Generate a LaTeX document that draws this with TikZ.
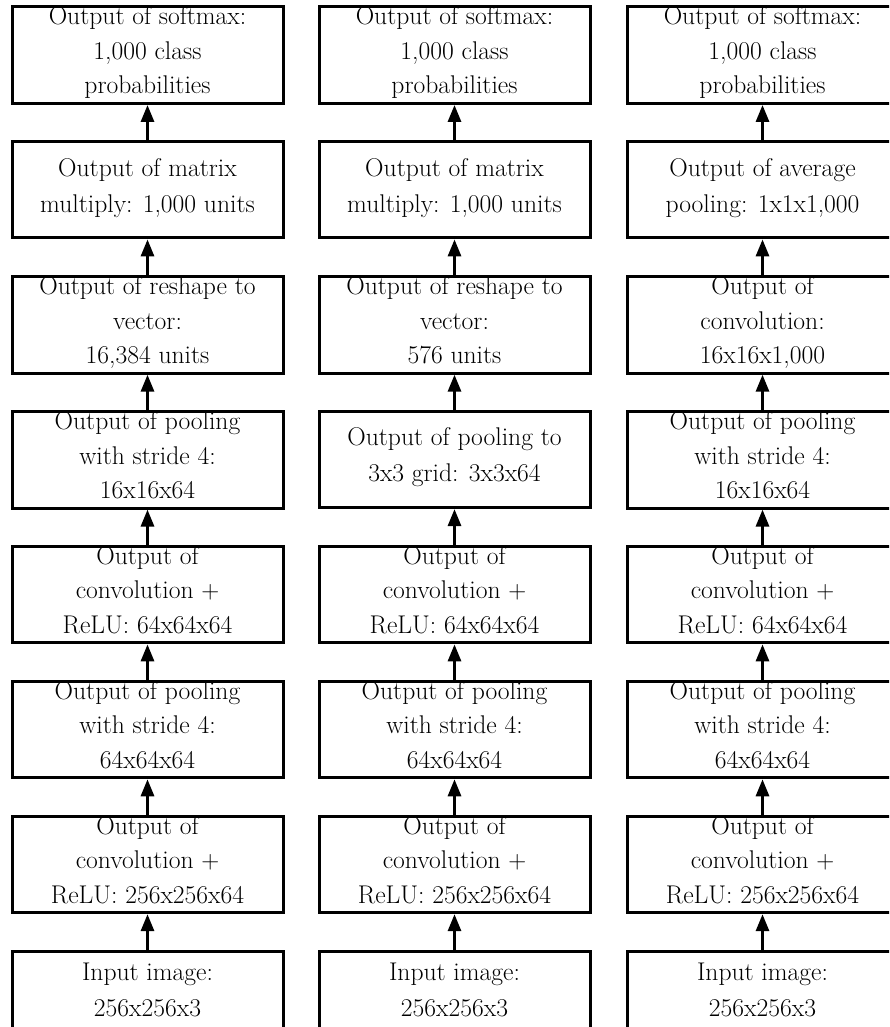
\documentclass[tikz,border=0pt]{standalone}
\usetikzlibrary{arrows.meta}
\newcommand{\mytopstrut}{\rule{0pt}{18.5pt}}
\newcommand{\mybotstrut}{\rule[-9.5pt]{0pt}{9.5pt}}
\newcommand{\mybotstrutb}{\rule[-5.5pt]{0pt}{5.5pt}}
\begin{document}
\begin{tikzpicture}[x=1pt,y=-1pt,
  box/.style={draw, line width=3pt, minimum width=271pt, minimum height=96pt,
    inner sep=0pt, anchor=north, align=center,
    font=\fontsize{25.6}{34.5}\selectfont,
    execute at begin node=\mytopstrut, execute at end node=\mybotstrut},
  boxb/.style={box, font=\fontsize{25.6}{36}\selectfont,
    execute at end node=\mybotstrutb},
  tallbox/.style={draw, line width=3pt, minimum width=271pt, minimum height=140pt,
    inner sep=0pt, anchor=north},
  lbl/.style={inner sep=0pt, outer sep=0pt, anchor=north, align=center,
    font=\fontsize{25.6}{36}\selectfont,
    execute at begin node=\mytopstrut, execute at end node=\mybotstrut},
  arr/.style={line width=3pt, -{Triangle[length=17pt,width=13pt]}}]
\clip (0,0) rectangle (889,1027);
\fill[white] (0,0) rectangle (889,1027);
% column 1
\node[box] (a1) at (147.5,5.5) {Output of softmax:\\1,000 class\\probabilities};
\node[boxb] (a2) at (147.5,140.4) {Output of matrix\\multiply: 1,000 units};
\node[box] (a3) at (147.5,275.2) {Output of reshape to\\vector:\\16,384 units};
\node[box] (a4) at (147.5,410.1) {Output of pooling\\with stride 4:\\16x16x64};
\node[box] (a5) at (147.5,544.9) {Output of\\convolution $+$\\ReLU: 64x64x64};
\node[box] (a6) at (147.5,679.8) {Output of pooling\\with stride 4:\\64x64x64};
\node[box] (a7) at (147.5,814.7) {Output of\\convolution $+$\\ReLU: 256x256x64};
\node[tallbox] (a8) at (147.5,949.5) {};
\node[lbl] (ta8) at (147.5,963) {Input image:\\256x256x3};
% column 2
\node[box] (b1) at (454.5,5.5) {Output of softmax:\\1,000 class\\probabilities};
\node[boxb] (b2) at (454.5,140.4) {Output of matrix\\multiply: 1,000 units};
\node[box] (b3) at (454.5,275.2) {Output of reshape to\\vector:\\576 units};
\node[boxb] (b4) at (454.5,410.1) {Output of pooling to\\3x3 grid: 3x3x64};
\node[box] (b5) at (454.5,544.9) {Output of\\convolution $+$\\ReLU: 64x64x64};
\node[box] (b6) at (454.5,679.8) {Output of pooling\\with stride 4:\\64x64x64};
\node[box] (b7) at (454.5,814.7) {Output of\\convolution $+$\\ReLU: 256x256x64};
\node[tallbox] (b8) at (454.5,949.5) {};
\node[lbl] (tb8) at (454.5,963) {Input image:\\256x256x3};
% column 3
\node[box] (c1) at (762.5,5.5) {Output of softmax:\\1,000 class\\probabilities};
\node[boxb] (c2) at (762.5,140.4) {Output of average\\pooling: 1x1x1,000};
\node[box] (c3) at (762.5,275.2) {Output of\\convolution:\\16x16x1,000};
\node[box] (c4) at (762.5,410.1) {Output of pooling\\with stride 4:\\16x16x64};
\node[box] (c5) at (762.5,544.9) {Output of\\convolution $+$\\ReLU: 64x64x64};
\node[box] (c6) at (762.5,679.8) {Output of pooling\\with stride 4:\\64x64x64};
\node[box] (c7) at (762.5,814.7) {Output of\\convolution $+$\\ReLU: 256x256x64};
\node[tallbox] (c8) at (762.5,949.5) {};
\node[lbl] (tc8) at (762.5,963) {Input image:\\256x256x3};
% arrows
\foreach \c in {a,b,c}{
  \draw[arr] (\c8.north) -- (\c7.south);
  \draw[arr] (\c7.north) -- (\c6.south);
  \draw[arr] (\c6.north) -- (\c5.south);
  \draw[arr] (\c5.north) -- (\c4.south);
  \draw[arr] (\c4.north) -- (\c3.south);
  \draw[arr] (\c3.north) -- (\c2.south);
  \draw[arr] (\c2.north) -- (\c1.south);
}
\end{tikzpicture}
\end{document}
